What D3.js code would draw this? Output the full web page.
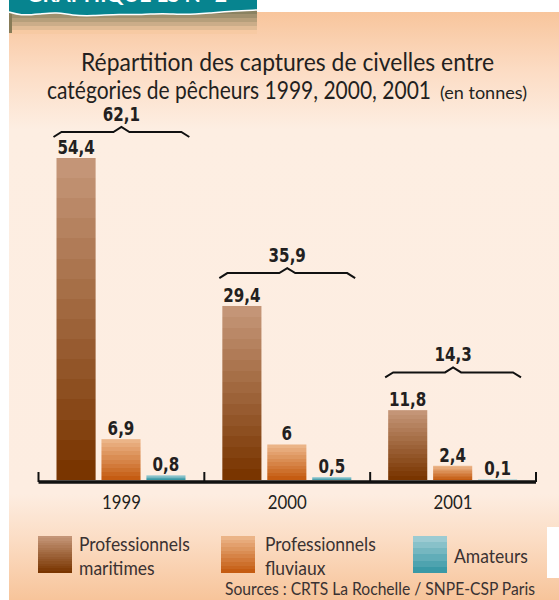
<!DOCTYPE html>
<html lang="fr">
<head>
<meta charset="utf-8">
<script src="https://cdn.jsdelivr.net/npm/d3@7"></script>
<style>
  html, body { margin: 0; padding: 0; background: #fff; }
  svg { display: block; }
</style>
</head>
<body>
<div id="chart"></div>
<script>
// captures de civelles, en tonnes
const years = ['1999', '2000', '2001']
const categories = ['maritimes', 'fluviaux', 'amateurs']
const maritimes = [54.4, 29.4, 11.8]
const fluviaux = [6.9, 6, 2.4]
const amateurs = [0.8, 0.5, 0.1]
const legendLabels = [['Professionnels', 'maritimes'], ['Professionnels', 'fluviaux'], ['Amateurs']]

const width = 559
const height = 600
const titleFont = 'Lato, "Open Sans", sans-serif'
const numFont = '"Liberation Sans Narrow", "DejaVu Sans Condensed", sans-serif'

const rows = years.map(function (yr, i) {
    return { year: yr, values: [maritimes[i], fluviaux[i], amateurs[i]] }
})
const maxVal = d3.max(rows, function (d) { return d3.max(d.values) })

const svg = d3.select('#chart')
    .append('svg')
    .attr('width', width)
    .attr('height', height)
const defs = svg.append('defs')

function bandedGradient(id, top, bottom, steps) {
    const g = defs.append('linearGradient').attr('id', id)
        .attr('x1', 0).attr('y1', 0).attr('x2', 0).attr('y2', 1)
    const c = d3.interpolateRgb(top, bottom)
    for (let i = 0; i < steps; i++) {
        g.append('stop').attr('offset', i / steps).attr('stop-color', c(i / (steps - 1)))
        g.append('stop').attr('offset', (i + 1) / steps).attr('stop-color', c(i / (steps - 1)))
    }
}
bandedGradient('g-maritimes', '#c49577', '#793500', 16)
bandedGradient('g-fluviaux', '#ebb487', '#c55c12', 10)
bandedGradient('g-amateurs', '#9ccbd2', '#3a99a6', 6)
bandedGradient('g-strip', '#8a8261', '#f7caa3', 6)

const panelGrad = defs.append('linearGradient').attr('id', 'g-panel')
    .attr('gradientUnits', 'userSpaceOnUse')
    .attr('x1', 0).attr('y1', 12).attr('x2', 0).attr('y2', 600)
panelGrad.selectAll('stop')
    .data([[0, '#f8c59c'], [0.1, '#fcdcc4'], [0.2, '#fdeee2'], [0.82, '#fdede1'], [0.9, '#fbdcc3'], [1, '#f7c49a']])
    .enter().append('stop')
    .attr('offset', function (d) { return d[0] })
    .attr('stop-color', function (d) { return d[1] })

function fit(sel, w) {
    sel.attr('textLength', w).attr('lengthAdjust', 'spacingAndGlyphs')
}
// squeeze a text to a share of its natural width (the original uses a condensed face)
function squeeze(sel, r) {
    sel.each(function () {
        const len = this.getComputedTextLength()
        d3.select(this).attr('textLength', len * r).attr('lengthAdjust', 'spacingAndGlyphs')
    })
}

// panel + header
svg.append('rect').attr('x', 9).attr('y', 12).attr('width', width - 9).attr('height', height - 12)
    .attr('fill', 'url(#g-panel)')
svg.append('rect').attr('x', 9).attr('y', 10).attr('width', 248).attr('height', 24)
    .attr('fill', 'url(#g-strip)')
svg.append('rect').attr('x', 9).attr('y', 14).attr('width', 3).attr('height', 19).attr('fill', '#877b57')

const wave = [[9, 12], [20, 15.5], [40, 14], [57, 12], [72, 15.5], [92, 16], [120, 14], [142, 15], [162, 13], [185, 15], [210, 13], [232, 11], [257, 10]]
const waveLine = d3.line().curve(d3.curveBasis)
svg.append('path')
    .attr('d', 'M9,0 H257 V10 ' + waveLine(wave.slice().reverse()).replace('M', 'L') + ' Z')
    .attr('fill', '#07848f')
svg.append('path')
    .attr('d', waveLine(wave))
    .attr('fill', 'none').attr('stroke', '#ffffff').attr('stroke-width', 1.5)
svg.append('text').attr('x', 27).attr('y', 2)
    .attr('font-family', titleFont).attr('font-weight', 'bold').attr('font-size', 20)
    .attr('fill', '#ffffff').text('GRAPHIQUE LS N° 2')
    .call(fit, 200)

// title
svg.append('text').attr('x', 81).attr('y', 71)
    .attr('font-family', titleFont).attr('font-size', 25).attr('fill', '#231f20')
    .text('Répartition des captures de civelles entre').call(fit, 413)
svg.append('text').attr('x', 47).attr('y', 99)
    .attr('font-family', titleFont).attr('font-size', 25).attr('fill', '#231f20')
    .text('catégories de pêcheurs 1999, 2000, 2001').call(fit, 384)
svg.append('text').attr('x', 440).attr('y', 99)
    .attr('font-family', titleFont).attr('font-size', 18).attr('fill', '#231f20')
    .text('(en tonnes)').call(fit, 87)

// scales
const x0 = d3.scaleBand().domain(years).range([38.5, 536])
const x1 = d3.scaleBand().domain(categories).range([18, 147]).paddingInner(0.13)
const y = d3.scaleLinear().domain([0, maxVal]).range([480, 158])
const braceY = d3.scaleLinear().domain([0, maxVal]).range([439, 132])

function fmt(v) {
    return String(Math.round(v * 10) / 10).replace('.', ',')
}

const groups = svg.selectAll('g.year')
    .data(rows)
    .enter()
    .append('g')
    .attr('class', 'year')
    .attr('transform', function (d) { return `translate(${x0(d.year)},0)` })

const bars = groups.selectAll('g.bar')
    .data(function (d) {
        return d.values.map(function (v, i) { return { cat: categories[i], value: v } })
    })
    .enter()
    .append('g')
    .attr('class', 'bar')

bars.append('rect')
    .attr('x', function (d) { return x1(d.cat) })
    .attr('y', function (d) { return y(d.value) })
    .attr('width', x1.bandwidth())
    .attr('height', function (d) { return y(0) - y(d.value) })
    .attr('fill', function (d) { return 'url(#g-' + d.cat + ')' })

bars.append('text')
    .attr('x', function (d) { return x1(d.cat) + x1.bandwidth() / 2 })
    .attr('y', function (d) { return y(d.value) - 4 })
    .attr('text-anchor', 'middle')
    .attr('font-family', numFont).attr('font-weight', 'bold').attr('font-size', 20)
    .attr('fill', '#231f20')
    .text(function (d) { return fmt(d.value) })
    .call(squeeze, 0.84)

// braces with totals
const bw = x0.bandwidth()
groups.append('path')
    .attr('d', function (d) {
        const by = braceY(d3.max(d.values))
        const a = 15, b = bw - 15, c = bw / 2
        return `M${a},${by + 5} L${a + 8},${by} L${c - 8},${by} L${c},${by - 5} L${c + 8},${by} L${b - 8},${by} L${b},${by + 5}`
    })
    .attr('fill', 'none').attr('stroke', '#111').attr('stroke-width', 2)

groups.append('text')
    .attr('x', bw / 2)
    .attr('y', function (d) { return braceY(d3.max(d.values)) - 11 })
    .attr('text-anchor', 'middle')
    .attr('font-family', numFont).attr('font-weight', 'bold').attr('font-size', 20)
    .attr('fill', '#231f20')
    .text(function (d) { return fmt(d3.sum(d.values)) })
    .call(squeeze, 0.84)

// axis
const edges = years.map(function (d) { return x0(d) }).concat([x0.range()[1]])
svg.append('line')
    .attr('x1', x0.range()[0]).attr('x2', x0.range()[1])
    .attr('y1', 482).attr('y2', 482)
    .attr('stroke', '#111').attr('stroke-width', 3.5)
svg.selectAll('line.tick')
    .data(edges)
    .enter().append('line')
    .attr('class', 'tick')
    .attr('x1', function (d) { return d }).attr('x2', function (d) { return d })
    .attr('y1', 472).attr('y2', 482)
    .attr('stroke', '#111').attr('stroke-width', 2)

svg.selectAll('text.yearlabel')
    .data(years)
    .enter().append('text')
    .attr('class', 'yearlabel')
    .attr('x', function (d) { return x0(d) + bw / 2 })
    .attr('y', 509)
    .attr('text-anchor', 'middle')
    .attr('font-family', titleFont).attr('font-size', 20).attr('fill', '#231f20')
    .text(function (d) { return d })
    .call(fit, 39)

// legend
const legendX = [38, 221, 413]
const legend = svg.selectAll('g.legend')
    .data(categories)
    .enter().append('g')
    .attr('class', 'legend')
    .attr('transform', function (d, i) { return `translate(${legendX[i]},536)` })
legend.append('rect')
    .attr('width', 34).attr('height', 37)
    .attr('fill', function (d) { return 'url(#g-' + d + ')' })
legend.each(function (d, i) {
    const lines = legendLabels[i]
    const g = d3.select(this)
    lines.forEach(function (s, j) {
        g.append('text')
            .attr('x', i === 1 ? 44 : 41)
            .attr('y', lines.length === 1 ? 27 : 15 + j * 24)
            .attr('font-family', titleFont).attr('font-size', 19).attr('fill', '#3a3232')
            .text(s)
            .call(squeeze, 0.92)
    })
})

svg.append('text').attr('x', 225).attr('y', 595)
    .attr('font-family', titleFont).attr('font-size', 17).attr('fill', '#3a3232')
    .text('Sources : CRTS La Rochelle / SNPE-CSP Paris').call(fit, 310)

svg.append('rect').attr('x', 547).attr('y', 527).attr('width', 12).attr('height', 51).attr('fill', '#fff')
</script>
</body>
</html>
